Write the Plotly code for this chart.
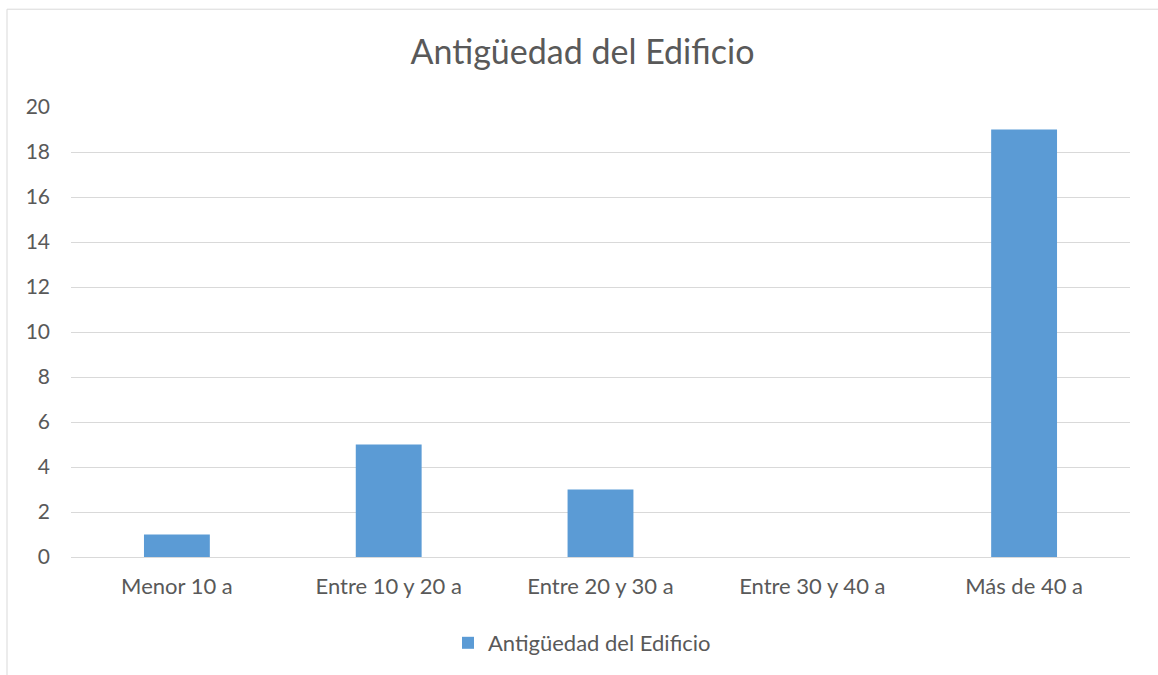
import plotly.graph_objects as go

categories = ["Menor 10 a", "Entre 10 y 20 a", "Entre 20 y 30 a", "Entre 30 y 40 a", "Más de 40 a"]
values = [1, 5, 3, 0, 19]
y_ticks = [0, 2, 4, 6, 8, 10, 12, 14, 16, 18, 20]
series_name = "Antigüedad del Edificio"
title_text = "Antigüedad del Edificio"

FONT = "Lato"
TXT = "#595959"

fig = go.Figure()
fig.add_trace(go.Bar(
    x=categories, y=values, name=series_name,
    marker=dict(color="#5B9BD5", line=dict(width=0)),
))

L, R, T, B = 71, 28, 107, 117
W, H = 1158, 675
pw, ph = W - L - R, H - T - B

def px_x(p):
    return (p - L) / pw

def px_y(p):
    return (H - B - p) / ph

fig.add_shape(type="rect", xref="paper", yref="paper",
              x0=px_x(7), x1=px_x(1170), y0=px_y(690), y1=px_y(9),
              line=dict(color="#D9D9D9", width=1), fillcolor="rgba(0,0,0,0)", layer="below")

fig.update_layout(
    width=W, height=H,
    margin=dict(l=L, r=R, t=T, b=B),
    paper_bgcolor="white", plot_bgcolor="white",
    font=dict(family=FONT, color=TXT),
    title=dict(text=title_text, xref="container", x=582.5 / W, xanchor="center",
               yref="container", y=1 - 52 / H, yanchor="middle",
               font=dict(family=FONT, size=34, color=TXT)),
    bargap=0.689,
    showlegend=True,
    legend=dict(orientation="h", x=px_x(582), xanchor="center", y=px_y(643), yanchor="middle",
                font=dict(family=FONT, size=22, color=TXT), itemwidth=30),
    xaxis=dict(showgrid=False, showline=True, linecolor="#D9D9D9", linewidth=1,
               tickfont=dict(family=FONT, size=22, color=TXT), ticks="", ticklabelstandoff=10),
    yaxis=dict(range=[0, 20], tickvals=y_ticks, showgrid=True, gridcolor="#D9D9D9", gridwidth=1,
               zeroline=False, showline=False, ticks="", ticklabelstandoff=20,
               tickfont=dict(family=FONT, size=21, color=TXT)),
)

fig.write_html("out.html", config={"displayModeBar": False},
               post_script="document.body.style.margin='0';")
